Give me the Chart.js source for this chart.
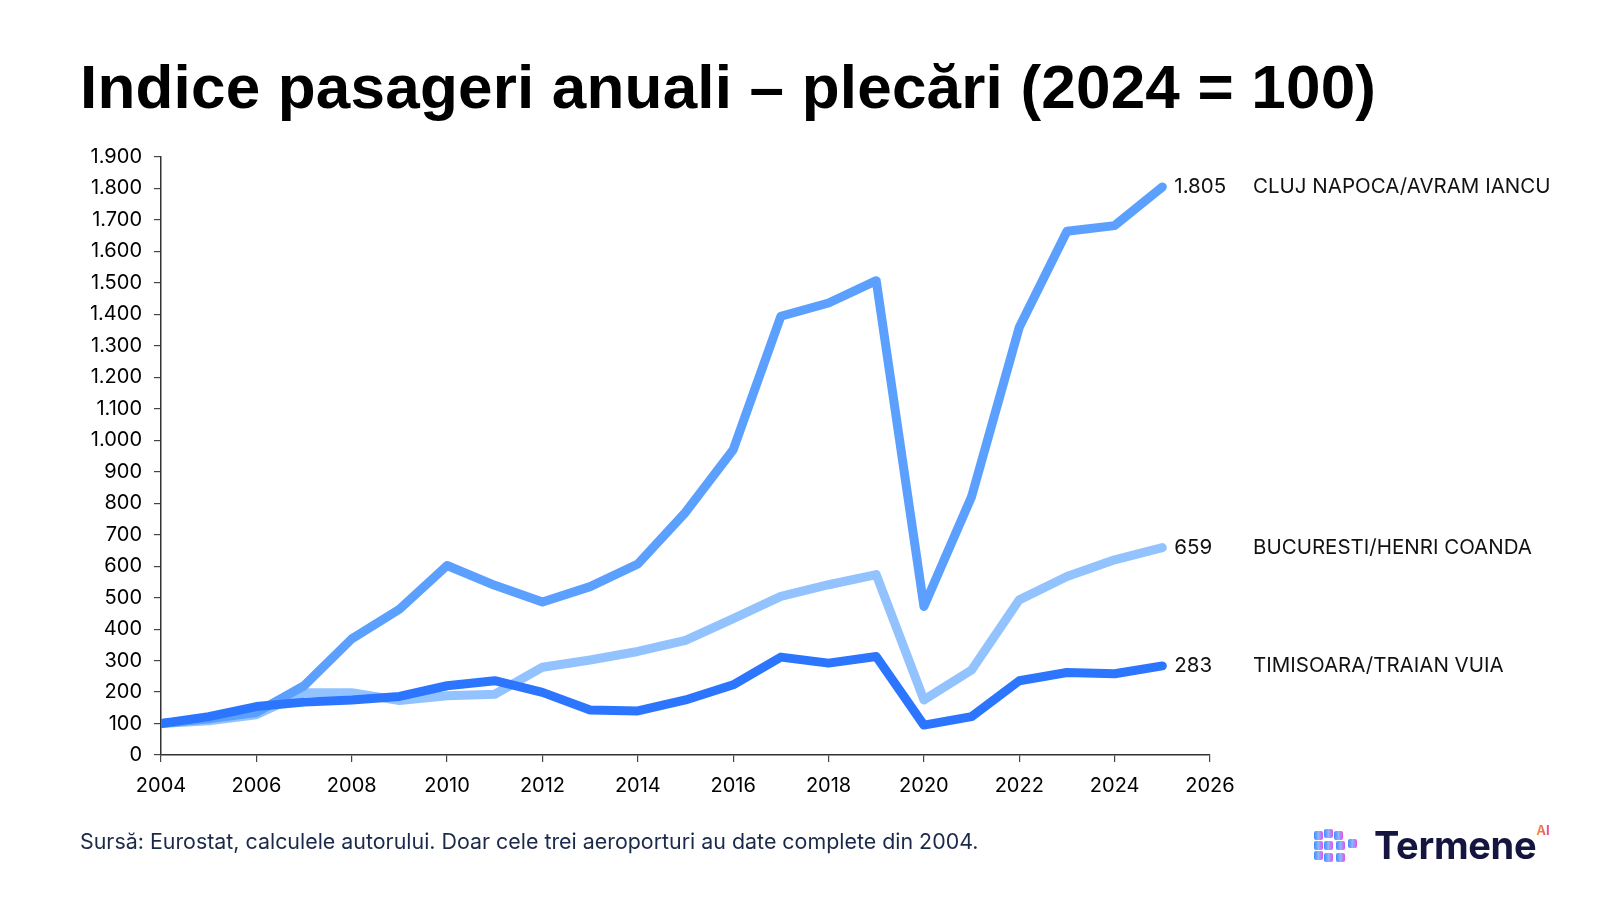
<!DOCTYPE html>
<html>
<head>
<meta charset="utf-8">
<script src="https://cdn.jsdelivr.net/npm/chart.js@4"></script>
<style>
  body { margin: 0; background: #fff; }
  #wrap { position: relative; width: 1600px; height: 900px; background: #fff; overflow: hidden; }
  #title {
    position: absolute; left: 80px; top: 47px; margin: 0;
    font-family: "Liberation Sans", Arial, sans-serif;
    font-weight: bold; font-size: 62px; line-height: 80px; letter-spacing: 0.2px; color: #000; white-space: nowrap;
  }
  #chart { position: absolute; left: 0; top: 0; }
  #source {
    position: absolute; left: 80px; top: 828px;
    font-family: Inter, "Noto Sans", sans-serif; font-size: 21.4px; color: #1b2a4a; white-space: nowrap;
  }
  #logo { position: absolute; left: 1312px; top: 820px; height: 50px; display: flex; align-items: center; }
  #logo .word { font-family: Inter, sans-serif; font-weight: 700; font-size: 38px; color: #14163f; margin-left: 12px; letter-spacing: -0.3px; }
  #logo .ai {
    font-family: Inter, sans-serif; font-weight: 700; font-size: 13px; align-self: flex-start; margin-top: 2px;
    background: linear-gradient(90deg, #ff9a2e, #e0409a); -webkit-background-clip: text; color: transparent;
  }
</style>
</head>
<body>
<div id="wrap">
  <div id="title">Indice pasageri anuali – plecări (2024 = 100)</div>
  <canvas id="chart" width="1600" height="900"></canvas>
  <div id="source">Sursă: Eurostat, calculele autorului. Doar cele trei aeroporturi au date complete din 2004.</div>
  <div id="logo">
    <svg width="50" height="40" viewBox="0 0 50 40">
      <defs>
        <linearGradient id="lg" x1="0" x2="1" y1="0" y2="0">
          <stop offset="0" stop-color="#3f8cff"/>
          <stop offset="0.5" stop-color="#8fb6ff"/>
          <stop offset="1" stop-color="#e04fe8"/>
        </linearGradient>
      </defs>
      <g fill="url(#lg)">
        <rect x="2" y="6" width="9" height="9" rx="2"/>
        <rect x="12" y="4" width="9" height="9" rx="2"/>
        <rect x="22" y="6" width="9" height="9" rx="2"/>
        <rect x="2" y="16" width="9" height="9" rx="2"/>
        <rect x="12" y="16" width="9" height="9" rx="2"/>
        <rect x="24" y="16" width="9" height="9" rx="2"/>
        <rect x="36" y="14" width="9" height="9" rx="2"/>
        <rect x="2" y="26" width="9" height="9" rx="2"/>
        <rect x="12" y="28" width="9" height="9" rx="2"/>
        <rect x="24" y="28" width="9" height="9" rx="2"/>
      </g>
    </svg>
    <span class="word">Termene</span><span class="ai">AI</span>
  </div>
</div>

<script>
// years on the x axis
const years = [2004, 2005, 2006, 2007, 2008, 2009, 2010, 2011, 2012, 2013, 2014,
  2015, 2016, 2017, 2018, 2019, 2020, 2021, 2022, 2023, 2024, 2025];

// index values per airport
const cluj = [100, 115, 135, 220, 369, 463, 602, 539, 486, 535, 607,
  771, 970, 1394, 1436, 1507, 472, 821, 1359, 1664, 1682, 1805];
const bucuresti = [100, 109, 128, 198, 198, 173, 188, 193, 279, 302, 329,
  364, 433, 504, 541, 573, 175, 270, 493, 567, 620, 659];
const timisoara = [100, 122, 154, 168, 175, 186, 220, 236, 199, 143, 140,
  175, 223, 311, 292, 313, 95, 122, 236, 262, 258, 283];

const seriesNames = ["CLUJ NAPOCA/AVRAM IANCU", "BUCURESTI/HENRI COANDA", "TIMISOARA/TRAIAN VUIA"];

// thousands with a dot, like the original
function fmt(v) {
  return String(v).replace(/\B(?=(\d{3})+(?!\d))/g, ".");
}

function toPoints(values) {
  return years.map((yr, i) => ({ x: yr, y: values[i] }));
}

// labels at the end of each line: value + series name
const endLabels = {
  id: "endLabels",
  afterDatasetsDraw(chart) {
    const ctx = chart.ctx;
    const area = chart.chartArea;
    ctx.save();
    ctx.font = "20.5px Inter, sans-serif";
    ctx.fillStyle = "#111";
    ctx.textBaseline = "middle";
    ctx.textAlign = "left";
    chart.data.datasets.forEach((ds, i) => {
      const meta = chart.getDatasetMeta(i);
      const last = meta.data[meta.data.length - 1];
      const val = ds.data[ds.data.length - 1].y;
      ctx.fillText(fmt(val), last.x + 12, last.y);
      ctx.fillText(seriesNames[i], area.right + 43, last.y);
    });
    ctx.restore();
  },
};

const lineStyle = {
  borderWidth: 9,
  pointRadius: 0,
  tension: 0,
  borderCapStyle: "round",
  borderJoinStyle: "round",
  fill: false,
};

const tickFont = { family: "Inter, sans-serif", size: 20 };

const chart = new Chart(document.getElementById("chart").getContext("2d"), {
  type: "line",
  data: {
    datasets: [
      { ...lineStyle, label: seriesNames[0], data: toPoints(cluj), borderColor: "#5ca0ff", order: 1 },
      { ...lineStyle, label: seriesNames[1], data: toPoints(bucuresti), borderColor: "#92c3ff", order: 2 },
      { ...lineStyle, label: seriesNames[2], data: toPoints(timisoara), borderColor: "#2b75ff", order: 0 },
    ],
  },
  options: {
    responsive: false,
    animation: false,
    devicePixelRatio: 1,
    layout: { padding: { left: 60, right: 390, top: 157, bottom: 0 } },
    plugins: { legend: { display: false }, tooltip: { enabled: false } },
    scales: {
      x: {
        type: "linear",
        min: 2004,
        max: 2026,
        afterFit: (s) => { s.height = 145; },
        grid: { display: true, drawOnChartArea: false, drawTicks: true, tickLength: 7, color: "#444", lineWidth: 1.2 },
        border: { display: true, color: "#333", width: 1.5 },
        ticks: {
          stepSize: 2,
          padding: 12,
          color: "#000",
          font: tickFont,
          maxRotation: 0,
          callback: (v) => String(v),
        },
      },
      y: {
        min: 0,
        max: 1900,
        afterFit: (s) => { s.width = 101; },
        grid: { display: true, drawOnChartArea: false, drawTicks: true, tickLength: 7, color: "#444", lineWidth: 1.2 },
        border: { display: true, color: "#333", width: 1.5 },
        ticks: {
          stepSize: 100,
          padding: 12,
          color: "#000",
          font: tickFont,
          callback: (v) => fmt(v),
        },
      },
    },
  },
  plugins: [endLabels],
});
</script>
</body>
</html>
